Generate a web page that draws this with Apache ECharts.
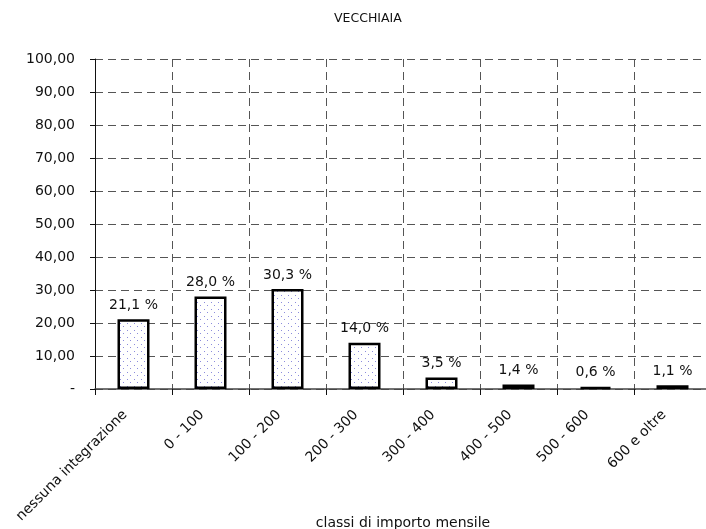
<!DOCTYPE html>
<html>
<head>
<meta charset="utf-8">
<script src="https://cdn.jsdelivr.net/npm/echarts@6/dist/echarts.min.js"></script>
<style>
  html, body { margin: 0; padding: 0; background: #fff; }
  #main { width: 706px; height: 529px; }
</style>
</head>
<body>
<div id="main"></div>
<script>
var categories = ['nessuna integrazione', '0 - 100', '100 - 200', '200 - 300', '300 - 400', '400 - 500', '500 - 600', '600 e oltre'];
var values = [21.1, 28.0, 30.3, 14.0, 3.5, 1.4, 0.6, 1.1];
var yTicks = [0, 10, 20, 30, 40, 50, 60, 70, 80, 90, 100];

// punteggiatura delle barre
var dots = document.createElement('canvas');
dots.width = 7;
dots.height = 7;
var ctx = dots.getContext('2d');
ctx.fillStyle = '#ffffff';
ctx.fillRect(0, 0, 7, 7);
ctx.fillStyle = '#8c8cdc';
ctx.fillRect(1, 1, 1, 1);
ctx.fillRect(4, 4, 1, 1);

function fmt(v, d) {
  return v.toFixed(d).replace('.', ',');
}

var font = 'DejaVu Sans';
var myChart = echarts.init(document.getElementById('main'));
var option = {
  backgroundColor: '#fff',
  animation: false,
  title: {
    text: 'VECCHIAIA',
    left: 329,
    top: 7,
    textStyle: { fontFamily: font, fontSize: 12.5, fontWeight: 'normal', color: '#111' }
  },
  grid: { left: 95, top: 59, width: 616, height: 330, containLabel: false, outerBoundsMode: 'none' },
  xAxis: {
    type: 'category',
    data: categories,
    name: 'classi di importo mensile',
    nameLocation: 'middle',
    nameGap: 127,
    nameMoveOverlap: false,
    nameTextStyle: { fontFamily: font, fontSize: 14, color: '#111' },
    axisLine: { lineStyle: { color: '#444', width: 1.5 } },
    axisTick: { show: true, interval: 0, length: 6, lineStyle: { color: '#111' } },
    axisLabel: {
      interval: 0, rotate: 45, margin: 32, fontFamily: font, fontSize: 14, color: '#111',
      verticalAlign: 'bottom', padding: [0, 0, 5, 0]
    },
    splitLine: { show: true, interval: 0, lineStyle: { color: '#555', type: [8, 5], width: 1 } }
  },
  yAxis: {
    type: 'value',
    min: yTicks[0],
    max: yTicks[yTicks.length - 1],
    interval: 10,
    axisLine: { show: true, lineStyle: { color: '#111', width: 1 } },
    axisTick: { show: true, length: 5, lineStyle: { color: '#111' } },
    axisLabel: {
      margin: 20, fontFamily: font, fontSize: 14, color: '#111',
      formatter: function (v) { return v === 0 ? '-' : fmt(v, 2); }
    },
    splitLine: { show: true, lineStyle: { color: '#555', type: [8, 5], width: 1 } }
  },
  series: [{
    type: 'bar',
    data: values,
    barWidth: 32,
    itemStyle: {
      color: { image: dots, repeat: 'repeat' },
      borderColor: '#000',
      borderWidth: 2.5
    },
    label: {
      show: true,
      position: 'top',
      distance: 7,
      fontFamily: font,
      fontSize: 14,
      color: '#111',
      formatter: function (p) { return fmt(p.value, 1) + ' %'; }
    }
  }]
};
myChart.setOption(option);
</script>
</body>
</html>
